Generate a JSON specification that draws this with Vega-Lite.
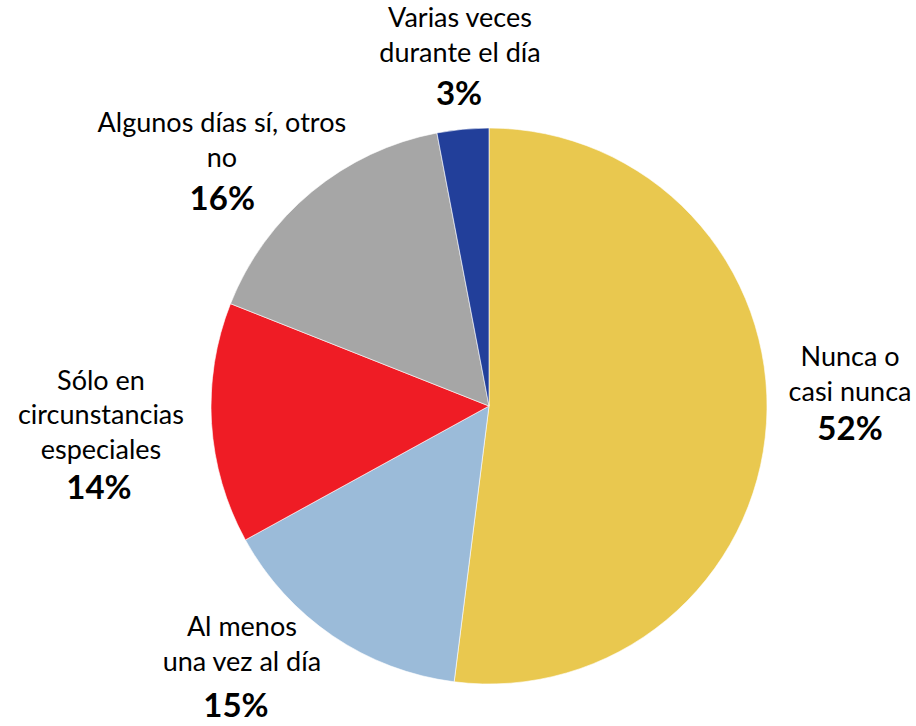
{
  "$schema": "https://vega.github.io/schema/vega-lite/v6.json",
  "width": 854,
  "height": 640,
  "autosize": {"type": "none"},
  "padding": {"left": 62, "top": 86, "right": 0, "bottom": 0},
  "background": "white",
  "data": {
    "values": [
      {"cat": "nunca", "name": "Nunca o\ncasi nunca", "pct": "52%", "value": 52, "orden": 1},
      {"cat": "almenos", "name": "Al menos\nuna vez al día", "pct": "15%", "value": 15, "orden": 2},
      {"cat": "solo", "name": "Sólo en\ncircunstancias\nespeciales", "pct": "14%", "value": 14, "orden": 3},
      {"cat": "algunos", "name": "Algunos días sí, otros\nno", "pct": "16%", "value": 16, "orden": 4},
      {"cat": "varias", "name": "Varias veces\ndurante el día", "pct": "3%", "value": 3, "orden": 5}
    ]
  },
  "encoding": {
    "theta": {"field": "value", "type": "quantitative", "stack": true},
    "order": {"field": "orden", "type": "quantitative"},
    "detail": {"field": "cat", "type": "nominal"}
  },
  "layer": [
    {
      "mark": {"type": "arc", "radius": 278, "stroke": "white", "strokeWidth": 0.6},
      "encoding": {
        "color": {
          "field": "cat", "type": "nominal", "legend": null,
          "scale": {
            "domain": ["nunca", "almenos", "solo", "algunos", "varias"],
            "range": ["#E9C84F", "#9BBBD9", "#EF1C25", "#A6A6A6", "#223F9A"]
          }
        }
      }
    },
    {
      "mark": {"type": "text", "radius": 340, "dx": 21.7, "dy": -61, "font": "Lato", "fontSize": 27, "lineHeight": 35, "lineBreak": "\n", "align": "center", "baseline": "alphabetic", "color": "black"},
      "encoding": {"text": {"condition": {"test": "datum.cat === 'nunca'", "field": "name"}, "value": ""}}
    },
    {
      "mark": {"type": "text", "radius": 340, "dx": -56, "dy": -51, "font": "Lato", "fontSize": 27, "lineHeight": 35, "lineBreak": "\n", "align": "center", "baseline": "alphabetic", "color": "black"},
      "encoding": {"text": {"condition": {"test": "datum.cat === 'almenos'", "field": "name"}, "value": ""}}
    },
    {
      "mark": {"type": "text", "radius": 340, "dx": -48.7, "dy": -37.4, "font": "Lato", "fontSize": 27, "lineHeight": 34.5, "lineBreak": "\n", "align": "center", "baseline": "alphabetic", "color": "black"},
      "encoding": {"text": {"condition": {"test": "datum.cat === 'solo'", "field": "name"}, "value": ""}}
    },
    {
      "mark": {"type": "text", "radius": 340, "dx": -50.4, "dy": -12.2, "font": "Lato", "fontSize": 27, "lineHeight": 35, "lineBreak": "\n", "align": "center", "baseline": "alphabetic", "color": "black"},
      "encoding": {"text": {"condition": {"test": "datum.cat === 'algunos'", "field": "name"}, "value": ""}}
    },
    {
      "mark": {"type": "text", "radius": 340, "dx": 3, "dy": -40.5, "font": "Lato", "fontSize": 27, "lineHeight": 35, "lineBreak": "\n", "align": "center", "baseline": "alphabetic", "color": "black"},
      "encoding": {"text": {"condition": {"test": "datum.cat === 'varias'", "field": "name"}, "value": ""}}
    },
    {
      "mark": {"type": "text", "radius": 340, "dx": 21.7, "dy": 13, "font": "Lato", "fontSize": 33, "fontWeight": "bold", "align": "center", "baseline": "alphabetic", "color": "black"},
      "encoding": {"text": {"condition": {"test": "datum.cat === 'nunca'", "field": "pct"}, "value": ""}}
    },
    {
      "mark": {"type": "text", "radius": 340, "dx": -62, "dy": 30, "font": "Lato", "fontSize": 33, "fontWeight": "bold", "align": "center", "baseline": "alphabetic", "color": "black"},
      "encoding": {"text": {"condition": {"test": "datum.cat === 'almenos'", "field": "pct"}, "value": ""}}
    },
    {
      "mark": {"type": "text", "radius": 340, "dx": -50.7, "dy": 72, "font": "Lato", "fontSize": 33, "fontWeight": "bold", "align": "center", "baseline": "alphabetic", "color": "black"},
      "encoding": {"text": {"condition": {"test": "datum.cat === 'solo'", "field": "pct"}, "value": ""}}
    },
    {
      "mark": {"type": "text", "radius": 340, "dx": -50, "dy": 65.8, "font": "Lato", "fontSize": 33, "fontWeight": "bold", "align": "center", "baseline": "alphabetic", "color": "black"},
      "encoding": {"text": {"condition": {"test": "datum.cat === 'algunos'", "field": "pct"}, "value": ""}}
    },
    {
      "mark": {"type": "text", "radius": 340, "dx": 2, "dy": 37.5, "font": "Lato", "fontSize": 33, "fontWeight": "bold", "align": "center", "baseline": "alphabetic", "color": "black"},
      "encoding": {"text": {"condition": {"test": "datum.cat === 'varias'", "field": "pct"}, "value": ""}}
    }
  ],
  "config": {"view": {"stroke": null}}
}
